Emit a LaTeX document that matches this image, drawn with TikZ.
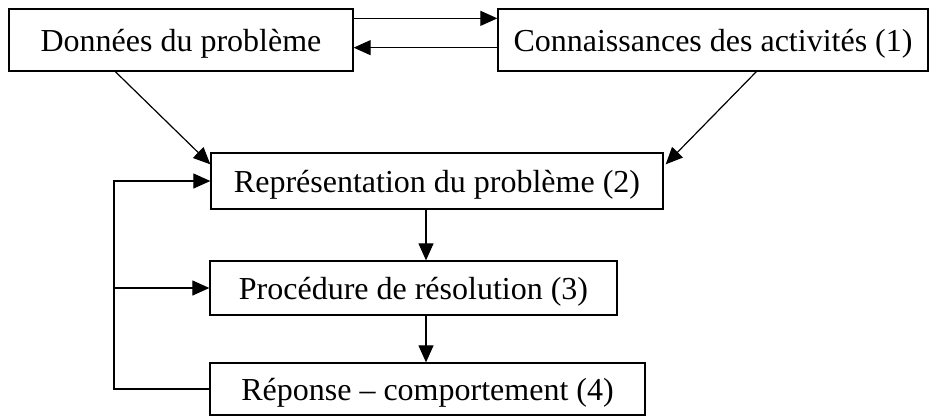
\documentclass[tikz,border=0pt]{standalone}
\usepackage{fontspec}
\setmainfont{Liberation Serif}
\usetikzlibrary{arrows.meta,calc}

\tikzset{
  box/.style={draw, line width=1.3pt, inner sep=0pt, anchor=center,
              text height=23pt, text depth=0pt,
              font=\fontsize{32}{38}\selectfont},
  link/.style={line width=1.2pt},
  arr/.style={link, -{Triangle[length=17pt,width=15pt]}}
}

\begin{document}
\begin{tikzpicture}[x=1pt,y=1pt]
  \useasboundingbox (0,0) rectangle (931,-416);

  % boxes
  \node[box, minimum width=344pt, minimum height=62pt] (A) at (181,-40) {Données du problème};
  \node[box, minimum width=430pt, minimum height=62pt] (B) at (713,-40) {Connaissances des activités (1)};
  \node[box, minimum width=452pt, minimum height=56pt] (C) at (437,-181) {Représentation du problème (2)};
  \node[box, minimum width=407pt, minimum height=54pt] (D) at (413.5,-288) {Procédure de résolution (3)};
  \node[box, minimum width=435pt, minimum height=52pt] (E) at (427.5,-389) {Réponse -- comportement (4)};

  % guide coordinates for the vertical lines
  \coordinate (mid) at (426,0);
  \coordinate (fb) at (114,0);

  % exchange between the two top boxes
  \draw[arr] ($(A.north east)+(0,-10)$) -- ($(B.north west)+(0,-10)$);
  \draw[arr] ($(B.south west)+(0,24)$) -- ($(A.south east)+(0,24)$);

  % both top boxes feed the representation
  \draw[arr] ($(A.south west)+(107,0)$) -- ($(C.north west)+(0,-12)$);
  \draw[arr] ($(B.south west)+(259,0)$) -- ($(C.north east)+(2,-12)$);

  % main chain
  \draw[arr] (C.south -| mid) -- (D.north -| mid);
  \draw[arr] (D.south -| mid) -- (E.north -| mid);

  % feedback loop
  \draw[arr] (E.west) -- (E.west -| fb) |- (C.west);
  \draw[arr] (D.west -| fb) -- (D.west);
\end{tikzpicture}
\end{document}
